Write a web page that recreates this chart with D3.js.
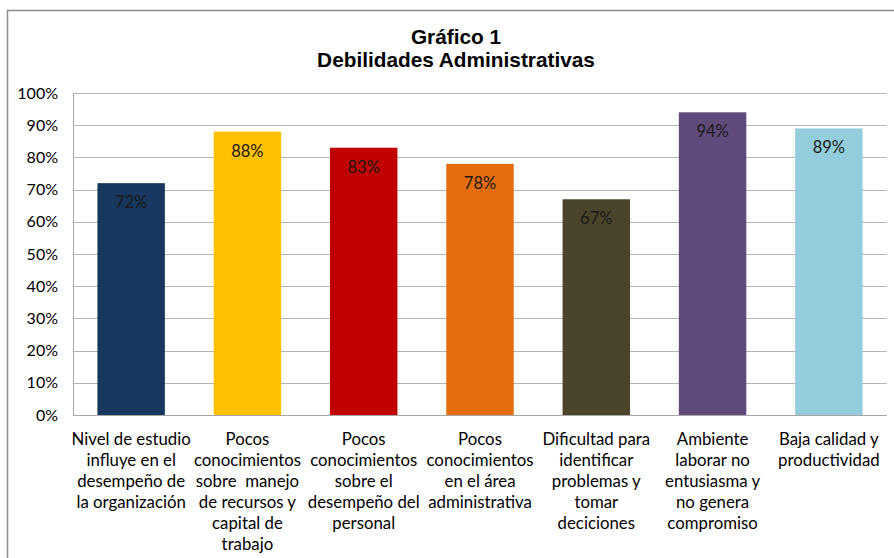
<!DOCTYPE html>
<html><head><meta charset="utf-8">
<script src="https://cdn.jsdelivr.net/npm/d3@7"></script>
<style>
body{margin:0;background:#fff;}
svg{display:block;}
</style></head>
<body>
<svg id="chart" width="894" height="558"></svg>
<script>
const categories = [
  ["Nivel de estudio","influye en el","desempeño de","la organización"],
  ["Pocos","conocimientos","sobre  manejo","de recursos y","capital de","trabajo"],
  ["Pocos","conocimientos","sobre el","desempeño del","personal"],
  ["Pocos","conocimientos","en el área","administrativa"],
  ["Dificultad para","identificar","problemas y","tomar","deciciones"],
  ["Ambiente","laborar no","entusiasma y","no genera","compromiso"],
  ["Baja calidad y","productividad"]
];
const values = [72, 88, 83, 78, 67, 94, 89];
const colors = ["#17375E","#FFC000","#C00000","#E46C0A","#4A452A","#604A7B","#93CDDD"];
const yTicks = [0,10,20,30,40,50,60,70,80,90,100];
const titleLines = ["Gráfico 1","Debilidades Administrativas"];

const svg = d3.select("#chart");
const font = "Lato, 'Open Sans', sans-serif";

// outer chart border
svg.append("rect").attr("x",7.5).attr("y",10.5).attr("width",900).attr("height",600)
  .attr("fill","#fff").attr("stroke","#8c8c8c").attr("stroke-width",1.5);

const L = 73, R = 887, T = 93, B = 415;
const idx = d3.range(values.length);
const x = d3.scaleBand().domain(idx).range([L,R]).paddingInner(0.42).paddingOuter(0.21);
const y = d3.scaleLinear().domain([0,100]).range([B,T]);

// gridlines
svg.append("g").selectAll("line").data(yTicks.filter(d=>d>0)).join("line")
  .attr("x1",L).attr("x2",R).attr("y1",d=>Math.round(y(d))+0.5).attr("y2",d=>Math.round(y(d))+0.5)
  .attr("stroke","#b3b3b3").attr("stroke-width",1);

// y axis
const ya = svg.append("g").attr("transform",`translate(${L},0)`)
  .call(d3.axisLeft(y).tickValues(yTicks).tickFormat(d=>d+"%").tickSize(0).tickPadding(15));
ya.select(".domain").attr("stroke","#a6a6a6");
ya.selectAll("text").attr("font-family",font).attr("font-size",16).attr("fill","#000");

// bars
svg.append("g").selectAll("rect").data(idx).join("rect")
  .attr("x",i=>x(i)).attr("width",x.bandwidth())
  .attr("y",i=>y(values[i])).attr("height",i=>B-y(values[i]))
  .attr("fill",i=>colors[i]);

// x axis line
svg.append("line").attr("x1",L).attr("x2",R).attr("y1",B+0.5).attr("y2",B+0.5)
  .attr("stroke","#a6a6a6");

// value labels
svg.append("g").selectAll("text").data(idx).join("text")
  .attr("x",i=>x(i)+x.bandwidth()/2).attr("y",i=>y(values[i])+25)
  .attr("text-anchor","middle").attr("font-family",font).attr("font-size",16.5)
  .attr("fill","#1a1a1a").text(i=>values[i]+"%");

// category labels
const cg = svg.append("g").selectAll("text").data(idx).join("text")
  .attr("text-anchor","middle").attr("font-family",font).attr("font-size",16.8).attr("fill","#000")
  .attr("transform",i=>`translate(${x(i)+x.bandwidth()/2},445)`);
cg.selectAll("tspan").data(i=>categories[i]).join("tspan")
  .attr("x",0).attr("dy",(d,j)=>j===0?0:21).style("white-space","pre").text(d=>d);

// title
svg.append("g").selectAll("text").data(titleLines).join("text")
  .attr("x",456).attr("y",(d,i)=>44+i*23).attr("text-anchor","middle")
  .attr("font-family","'Liberation Sans', Arial, sans-serif").attr("font-weight","bold")
  .attr("font-size",20.8).attr("fill","#000").text(d=>d);
</script>
</body></html>
